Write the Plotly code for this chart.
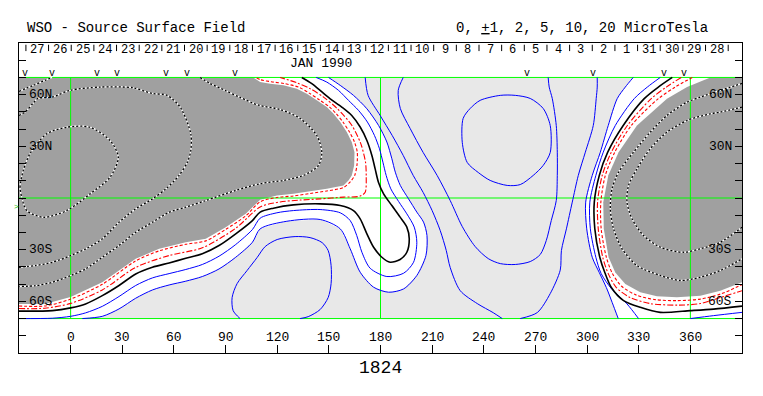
import plotly.graph_objects as go

# ---------------- text / label data ----------------
ROTATION = "1824"
TITLE_LEFT = "WSO - Source Surface Field"
TITLE_RIGHT = "0, <u>+</u>1, 2, 5, 10, 20 MicroTesla"
MONTH_LABEL = "JAN 1990"
DAY_LABELS = ["27", "26", "25", "24", "23", "22", "21", "20", "19", "18", "17", "16",
              "15", "14", "13", "12", "11", "10", "9", "8", "7", "6", "5", "4", "3",
              "2", "1", "31", "30", "29", "28"]
FIRST_DAY_LON = -19.4      # Carrington longitude of the first day label
DEG_PER_DAY = 13.16
LON_TICKS = list(range(0, 361, 30))
LAT_TICKS = [60, 30, -30, -60]
LAT_LABELS = ["60N", "30N", "30S", "60S"]
OBS_MARK_LON = [-26.5, -11.0, 15.2, 26.8, 55.3, 67.5, 95.5, 265.1, 303.2, 344.6, 356.5]

# ---------------- contour data (lon, sine-latitude scaled to +-70) ----------------
NEUTRAL_W = [(-30, -65.7), (-10.6, -65.4), (0, -63.8), (8.7, -61.5), (18.4, -56.7), (28.1, -50.8),
             (37.8, -44.1), (47.5, -40.2), (57.2, -37.7), (66.9, -35.0), (76.5, -32.4), (86.2, -27.6),
             (95.9, -20.8), (105.6, -13.1), (110.1, -8.2), (117.8, -5.9), (129.4, -4.0), (144.9, -3.4),
             (156.6, -4.4), (164.3, -7.3), (168.2, -12.1), (172.1, -20.8), (176.0, -28.6), (180.8, -34.4),
             (185.6, -37.3), (191.4, -35.7), (195.3, -31.5), (196.7, -23.7), (195.3, -16.9), (191.4, -11.1),
             (186.6, -4.4), (181.8, 2.4), (178.8, 9.2), (176.9, 16.9), (175.0, 24.7), (172.1, 33.4),
             (168.2, 41.2), (163.3, 47.9), (157.5, 52.8), (150.8, 57.6), (144.9, 62.5), (140.1, 66.4),
             (134.3, 70.0)]
NEUTRAL_E = [(349.5, 70.0), (341.4, 64.4), (333.2, 57.7), (321.0, 42.1), (312.0, 26.6), (307.1, 13.1),
             (304.2, -2.4), (304.5, -17.9), (307.4, -34.4), (310.3, -43.3), (314.1, -52.0), (321.2, -59.6),
             (330.9, -63.5), (342.5, -66.4), (360.0, -65.4), (373.5, -64.5), (390.0, -62.8)]

POS1_W = [(-30, -70.0), (-10.6, -69.8), (0, -68.7), (8.7, -66.7), (18.4, -62.9), (28.1, -57.2),
          (37.8, -50.8), (47.5, -46.4), (57.2, -43.9), (66.9, -41.5), (76.5, -38.6), (86.2, -33.8),
          (95.9, -27.0), (105.6, -18.3), (110.1, -11.7), (119.8, -8.6), (129.4, -7.3), (144.9, -6.7),
          (156.6, -8.6), (162.4, -13.1), (166.2, -21.8), (169.2, -31.5), (174.0, -40.8), (183.7, -45.6),
          (193.4, -43.7), (199.2, -37.3), (201.1, -25.7), (199.6, -16.9), (195.3, -9.2), (190.5, -2.0),
          (186.0, 5.3), (183.3, 13.1), (181.4, 20.8), (179.4, 28.6), (176.5, 36.3), (172.4, 44.1),
          (167.2, 50.9), (161.4, 56.7), (155.6, 62.5), (148.8, 67.3), (142.6, 70.0)]
POS1_E = [(342.5, 70.0), (335.0, 64.4), (327.4, 57.7), (316.4, 42.1), (309.4, 26.6), (305.1, 13.1),
          (301.6, -2.4), (301.9, -17.9), (305.1, -34.4), (308.2, -43.9), (314.1, -52.6), (323.2, -61.5),
          (329.9, -70.0), None, (360.0, -70.0), (373.5, -68.3), (390.0, -66.4)]

POS2_W = [(6.8, -70.0), (18.4, -68.7), (28.1, -64.4), (37.8, -58.2), (47.5, -53.4), (57.2, -50.5),
          (66.9, -48.3), (76.5, -45.6), (86.2, -41.2), (95.9, -34.4), (105.6, -25.7), (110.1, -17.9),
          (125.6, -13.5), (145.0, -12.5), (156.6, -17.9), (162.4, -29.5), (168.2, -43.1), (176.0, -51.8),
          (184.7, -54.7), (193.4, -52.8), (201.1, -45.0), (206.4, -33.4), (207.0, -21.8), (205.0, -14.0),
          (201.1, -8.2), (196.3, -0.5), (191.5, 7.3), (188.6, 15.0), (186.6, 22.8), (183.7, 32.5),
          (178.9, 42.1), (172.1, 51.8), (164.3, 59.6), (156.6, 65.4), (149.8, 70.0)]
POS2_E = [(326.8, 70.0), (322.2, 64.4), (317.5, 57.7), (312.3, 42.1), (307.7, 26.6), (303.0, 13.1),
          (299.2, -2.4), (299.8, -17.9), (303.0, -34.4), (307.1, -43.3), (311.2, -52.0), (314.6, -60.7),
          (318.1, -70.0)]

POS5_L = [(171.1, 70.0), (172.8, 59.6), (179.8, 47.9), (186.8, 36.3), (193.2, 24.7), (199.0, 13.1),
          (204.8, 3.2), (210.0, -7.3), (214.7, -18.9), (218.2, -30.5), (220.5, -40.4), (226.3, -53.8),
          (236.2, -61.3), (245.5, -66.6), (250.7, -70.0)]
POS5_R = [(261.2, -70.0), (271.1, -66.5), (278.6, -55.5), (284.4, -41.9), (285.1, -30.5), (288.0, -17.9),
          (291.4, -2.4), (294.9, 13.1), (299.0, 26.6), (303.6, 42.1), (305.3, 57.7), (305.9, 64.4),
          (305.9, 70.0)]
POS5_S = [(98.4, -70.0), (94.4, -65.4), (93.8, -57.8), (96.7, -49.7), (102.5, -42.1), (108.3, -34.6),
          (113.0, -28.2), (120.0, -24.1), (130.4, -22.4), (139.1, -23.0), (146.1, -25.9), (149.6, -30.5),
          (151.3, -39.2), (151.3, -49.7), (149.6, -57.8), (144.9, -64.8), (138.0, -68.9), (133.3, -70.0)]
POS10 = [(193.2, 70.0), (190.3, 62.5), (191.5, 52.0), (197.2, 40.4), (204.8, 26.4), (212.9, 13.1),
         (220.5, -1.5), (227.5, -16.6), (235.0, -28.2), (242.6, -35.2), (249.6, -38.1), (258.3, -38.6),
         (267.0, -36.9), (272.8, -32.8), (276.3, -24.7), (279.2, -13.1), (282.1, -1.5), (282.7, 13.1),
         (282.7, 26.6), (282.1, 42.1), (279.8, 57.7), (278.0, 64.4), (277.4, 70.0)]
POS20 = [(228.0, 46.2), (227.5, 32.3), (230.4, 20.6), (236.8, 14.8), (243.7, 10.2), (253.6, 7.3),
         (261.2, 7.8), (268.7, 13.1), (274.5, 18.9), (278.6, 26.4), (278.6, 42.1), (274.5, 52.0),
         (267.0, 57.8), (258.3, 59.6), (249.6, 59.6), (237.9, 56.7), (232.1, 52.0), (228.0, 46.2)]

NEG1_W = [(-30, -64.2), (-15, -64.0), (0, -61.2), (18.4, -53.4), (37.8, -40.3), (57.2, -33.4),
          (76.5, -28.9), (95.9, -17.6), (110.1, -5.2), (121.7, -2.3), (133.3, -1.2), (145.0, -0.5),
          (158.5, 0.5), (168.2, 1.1), (171.1, 3.4), (171.7, 13.1), (171.3, 20.8), (169.2, 29.6),
          (168.2, 32.5), (163.4, 42.1), (155.0, 51.8), (146.9, 58.6), (139.1, 63.5), (131.4, 66.9),
          (121.7, 70.0)]
NEG1_E = [(354.7, 70.0), (346.0, 64.4), (337.3, 57.7), (323.4, 42.1), (314.1, 26.6), (308.8, 13.1),
          (306.1, -2.4), (306.5, -17.9), (309.1, -34.4), (312.3, -43.9), (317.0, -52.0), (325.1, -57.8),
          (336.7, -61.3), (352.4, -62.2), (365.8, -61.3), (377.4, -57.8), (390.0, -53.8)]
NEG2_W = [(-30, -62.7), (-15, -62.7), (0, -58.7), (18.4, -50.1), (37.8, -36.5), (51.4, -30.7),
          (66.9, -26.9), (78.5, -24.9), (90.1, -18.2), (101.7, -10.4), (110.1, -2.2), (119.8, 0.3),
          (129.4, 1.2), (139.1, 2.6), (148.8, 4.1), (158.5, 6.1), (162.6, 9.6), (165.0, 13.1),
          (166.3, 18.9), (166.5, 26.6), (164.9, 32.5), (162.0, 38.3), (158.2, 44.1), (154.3, 48.9),
          (150.4, 52.8), (144.6, 56.9), (138.6, 60.9), (132.6, 64.3), (124.4, 66.4), (116.5, 67.5),
          (110.5, 68.6), (107.5, 70.0)]
NEG2_E = [(361.1, 70.0), (351.2, 64.4), (341.4, 57.7), (325.7, 42.1), (316.1, 26.6), (310.6, 13.1),
          (308.0, -2.4), (308.2, -17.9), (311.2, -34.4), (314.6, -43.6), (319.9, -51.1), (328.6, -56.4),
          (339.6, -59.0), (352.4, -59.6), (365.8, -58.7), (377.4, -55.8), (390.0, -50.3)]

# boundaries of the dark (strong negative) shading
SHADE_NEG_W = [(-30, -61.5), (-15, -61.5), (0, -57.5), (18.4, -48.9), (37.8, -35.3), (51.4, -29.5),
               (66.9, -25.7), (78.5, -23.7), (90.1, -17.0), (101.7, -9.2), (110.1, -1.0), (119.8, 1.5),
               (129.4, 2.4), (139.1, 3.8), (148.8, 5.3), (158.5, 7.3), (161.4, 10.2), (163.3, 13.1),
               (164.7, 18.9), (164.9, 26.6), (163.3, 32.5), (160.4, 38.3), (156.6, 44.1), (152.7, 48.9),
               (148.8, 52.8), (143.0, 56.7), (137.2, 60.5), (131.4, 63.5), (123.6, 65.4), (115.9, 66.4),
               (110.1, 67.3), (106.0, 70.0)]
SHADE_NEG_E = [(371.6, 70.0), (358.1, 64.4), (346.4, 57.7), (329.0, 42.1), (318.3, 26.6), (312.3, 13.1),
               (309.4, -2.4), (309.7, -17.9), (312.5, -34.4), (316.4, -43.2), (322.2, -49.9), (330.9, -54.7),
               (340.6, -57.1), (352.2, -57.7), (365.8, -56.7), (377.4, -53.8), (390.0, -48.9)]

NEG5_W = [(75.2, 70.0), (81.0, 66.5), (89.7, 62.5), (98.4, 58.4), (109.5, 53.8), (121.7, 51.4),
          (133.3, 46.2), (143.0, 36.3), (145.9, 26.6), (144.0, 18.9), (135.2, 13.1), (123.6, 10.2),
          (110.1, 8.3), (95.9, 4.4), (78.5, -1.5), (66.9, -5.3), (57.2, -8.3), (47.5, -14.1),
          (37.8, -19.9), (28.1, -27.6), (18.4, -34.4), (8.8, -41.1), (0.1, -45.0), (-10.6, -48.9),
          (-20.3, -50.9), (-30.0, -51.4)]
NEG5_W_CORNER = [(-30.0, 61.9), (-21.7, 65.4), (-14.9, 68.3), (-10.8, 70.0)]
NEG10_W = [(-30.0, 47.9), (-26.5, 49.9), (-21.9, 54.9), (-19.0, 57.8), (-10.8, 58.6), (-0.3, 62.5),
           (17.1, 64.4), (36.3, 64.0), (47.3, 60.7), (56.0, 59.6), (63.6, 52.8), (69.8, 37.3),
           (69.8, 27.6), (67.8, 20.8), (63.0, 13.1), (55.3, 5.3), (47.5, -0.5), (37.8, -6.3),
           (28.1, -14.1), (18.4, -23.7), (8.8, -29.5), (0.1, -33.4), (-10.6, -37.3), (-20.3, -39.2),
           (-30.0, -40.2)]
NEG20_W = [(-28.4, 0.5), (-29.4, 6.3), (-27.5, 16.0), (-23.6, 25.7), (-13.9, 37.3), (-2.3, 41.1),
           (11.3, 41.1), (22.9, 33.4), (27.7, 23.7), (22.9, 12.1), (11.3, 2.4), (-2.3, -7.3),
           (-15.9, -11.2), (-25.5, -7.3), (-28.4, 0.5)]
NEG5_E = [(390.0, 66.5), (377.4, 62.5), (365.8, 58.6), (358.1, 55.7), (346.4, 47.9), (336.7, 38.2),
          (327.0, 26.6), (318.3, 15.0), (314.5, 5.3), (313.5, -6.3), (315.4, -17.9), (320.3, -29.5),
          (329.0, -39.2), (342.6, -45.0), (354.2, -47.9), (365.8, -46.0), (377.4, -42.1), (390.0, -35.3)]
NEG10_E = [(390.0, 52.8), (377.4, 49.9), (371.6, 48.9), (358.1, 45.0), (346.4, 38.2), (336.7, 28.6),
           (329.0, 17.0), (324.1, 7.3), (323.2, -2.4), (326.1, -12.1), (332.8, -21.8), (342.6, -28.6),
           (356.1, -31.5), (365.8, -29.5), (377.4, -25.7), (390.0, -17.0)]

# ---------------- styling ----------------
MONO = "Liberation Mono"
GREEN = "#00ff00"
BLUE = "#0000ff"
RED = "#ff0000"
DARK = "#a0a0a0"
LIGHT = "#e8e8e8"
X_RANGE = [-30, 390]
Y_RANGE = [-90, 90]


def px(lon):
    return (lon - X_RANGE[0]) / (X_RANGE[1] - X_RANGE[0])


def py(lat):
    return (lat - Y_RANGE[0]) / (Y_RANGE[1] - Y_RANGE[0])


def xy(points):
    xs, ys = [], []
    for p in points:
        if p is None:
            xs.append(None)
            ys.append(None)
        else:
            xs.append(p[0])
            ys.append(p[1])
    return xs, ys


fig = go.Figure()


def fill(points, extra, color):
    xs, ys = xy(list(points) + list(extra))
    fig.add_trace(go.Scatter(x=xs, y=ys, mode="lines", fill="toself", fillcolor=color,
                             line=dict(width=0, color=color), hoverinfo="skip"))


def line(points, color, width=1.0, dash="solid"):
    xs, ys = xy(points)
    fig.add_trace(go.Scatter(x=xs, y=ys, mode="lines",
                             line=dict(color=color, width=width, dash=dash, shape="spline",
                                       smoothing=0.8),
                             hoverinfo="skip"))


# white band (weak field) and dark shading (strong negative)
fill(POS2_W, [(-30, 70), (-30, -70)], "white")
fill(POS2_E, [(390, -70), (390, 70)], "white")
fill(SHADE_NEG_W, [(-30, 70)], DARK)
fill(SHADE_NEG_E, [(390, 70)], DARK)

# green reference grid
gx, gy = [], []
for lon in (0, 180, 360):
    gx += [lon, lon, None]
    gy += [-70, 70, None]
for lat in (70, 0, -70):
    gx += [-30, 390, None]
    gy += [lat, lat, None]
fig.add_trace(go.Scatter(x=gx, y=gy, mode="lines", line=dict(color=GREEN, width=1), hoverinfo="skip"))

# strong negative contours: black/white dashed
for pts in (NEG5_W, NEG5_W_CORNER, NEG10_W, NEG20_W, NEG5_E, NEG10_E):
    line(pts, "white", 1.3)
    line(pts, "black", 1.3, "2px,2px")

# weak negative contours
for pts in (NEG1_W, NEG1_E):
    line(pts, RED, 1.1, "6px,2px,2px,2px")
for pts in (NEG2_W, NEG2_E):
    line(pts, RED, 1.1, "3px,2px")

# positive contours
for pts in (POS1_W, POS1_E, POS2_W, POS2_E, POS5_L, POS5_R, POS5_S, POS10, POS20):
    line(pts, BLUE, 1.0)

# neutral line
for pts in (NEUTRAL_W, NEUTRAL_E):
    line(pts, "black", 1.6)

# day ticks at the top
bx, by = [], []
for i in range(len(DAY_LABELS) + 1):
    lon = FIRST_DAY_LON + (i - 0.5) * DEG_PER_DAY
    bx += [lon, lon, None]
    by += [89.0, 85.3, None]
fig.add_trace(go.Scatter(x=bx, y=by, mode="lines", line=dict(color="black", width=1), hoverinfo="skip"))


def label(lon, lat, text, size, xanchor="center", color="black"):
    return dict(x=px(lon), y=py(lat), xref="paper", yref="paper", text=text, showarrow=False,
                xanchor=xanchor, yanchor="middle", font=dict(family=MONO, size=size, color=color))


ann = []
for i, d in enumerate(DAY_LABELS):
    ann.append(label(FIRST_DAY_LON + i * DEG_PER_DAY, 85.7, d, 12))
for lon in OBS_MARK_LON:
    ann.append(label(lon, 72.4, "v", 10))
for lat, lab in zip(LAT_TICKS, LAT_LABELS):
    ann.append(label(-25.6, lat, lab, 13, "left"))
    ann.append(label(385.6, lat, lab, 13, "right"))
for lon in LON_TICKS:
    ann.append(label(lon, -81.1, str(lon), 13))
ann.append(label(145.3, 78.3, MONTH_LABEL, 13))
ann.append(label(-26.5, 98.8, TITLE_LEFT, 14, "left"))
ann.append(label(371.6, 98.8, TITLE_RIGHT, 14, "right"))
ann.append(label(179.8, -98.5, ROTATION, 18))
ann.append(label(-31.6, -5.2, ">", 8, color="#00c000"))

# the page body adds an 8px offset, so the figure is 8px smaller on each side
fig.update_layout(
    width=755, height=380,
    margin=dict(l=11, r=21, t=35, b=35),
    paper_bgcolor="white", plot_bgcolor="white",
    showlegend=False,
    annotations=ann,
    shapes=[dict(type="rect", xref="x", yref="y", x0=-30, x1=390, y0=-70, y1=70,
                 fillcolor=LIGHT, line=dict(width=0), layer="below")],
    xaxis=dict(range=X_RANGE, showline=True, linecolor="black", linewidth=1, mirror=True,
               ticks="inside", ticklen=8, tickcolor="black", tickvals=LON_TICKS,
               showticklabels=False, showgrid=False, zeroline=False, fixedrange=True),
    yaxis=dict(range=Y_RANGE, showline=True, linecolor="black", linewidth=1, mirror="ticks",
               ticks="inside", ticklen=7, tickcolor="black", tickvals=list(range(-80, 81, 10)),
               showticklabels=False, showgrid=False, zeroline=False, fixedrange=True),
)

fig.write_html("out.html")
